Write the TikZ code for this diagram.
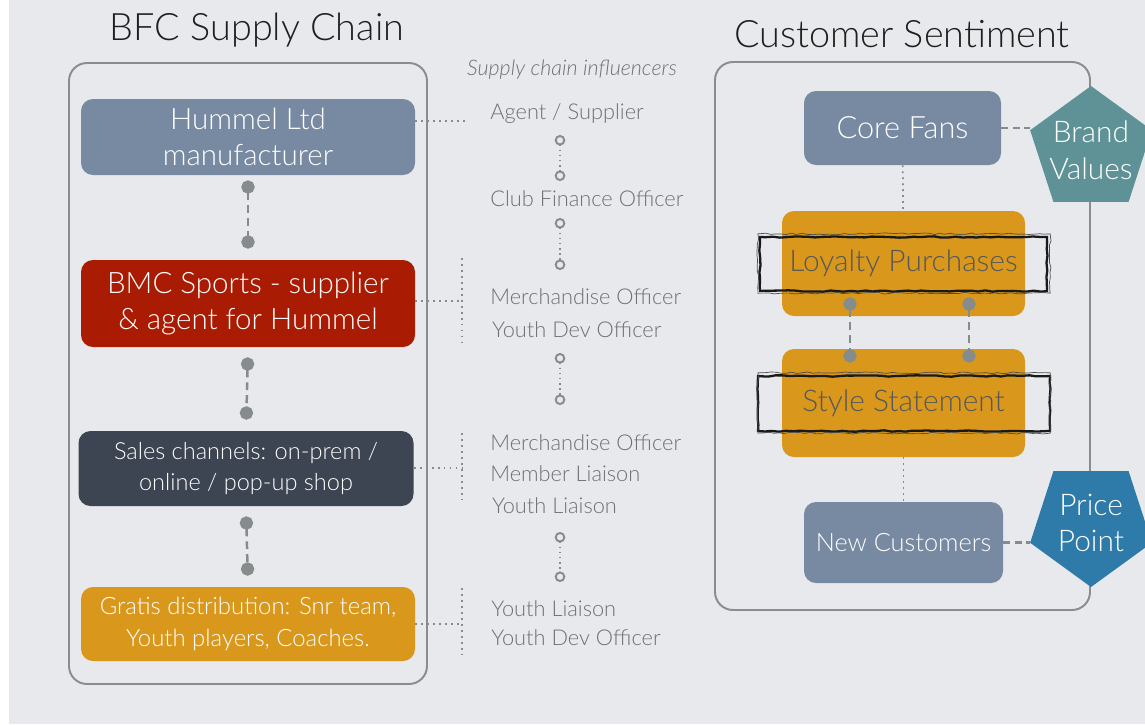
\documentclass[tikz,border=0pt]{standalone}
\usepackage{fontspec}
\setmainfont{Lato}[UprightFont={* Light}, ItalicFont={* Light Italic}]
\usetikzlibrary{positioning, shapes.geometric, arrows.meta, decorations.pathmorphing}
\definecolor{bgcol}{HTML}{E7E9EC}
\definecolor{panelgrey}{HTML}{888D8D}
\definecolor{linkgrey}{HTML}{868B8B}
\definecolor{slate}{HTML}{7889A2}
\definecolor{brick}{HTML}{A91C03}
\definecolor{ink}{HTML}{3D4452}
\definecolor{gold}{HTML}{D9981C}
\definecolor{teal}{HTML}{5F9296}
\definecolor{ocean}{HTML}{2E7BAA}
\definecolor{midtext}{HTML}{6E7173}
\definecolor{goldtext}{HTML}{585858}
\def\pxu{0.02cm}
\tikzstyle{panel} = [rectangle, rounded corners=0.36cm, draw=panelgrey, line width=1.1pt]
\tikzstyle{heading} = [text=black!88, font=\fontsize{21.5}{25}\selectfont]
\tikzstyle{box} = [rectangle, rounded corners=0.24cm, align=center, text=white, inner sep=0pt]
\tikzstyle{pent} = [regular polygon, regular polygon sides=5, inner sep=0pt]
\tikzstyle{penttext} = [text=white, align=center, font=\fontsize{17}{21}\selectfont]
\tikzstyle{infl} = [anchor=west, align=left, inner sep=0pt, text=midtext]
\tikzstyle{link} = [draw=linkgrey, line width=1.4pt, dash pattern=on 4.5pt off 2.8pt, {Circle[length=7.6pt]}-{Circle[length=7.6pt]}, shorten <=0.2cm, shorten >=0.22cm]
\tikzstyle{hop} = [draw=linkgrey, line width=0.9pt, dash pattern=on 0.9pt off 2pt, {Circle[open, length=6pt, line width=1.1pt]}-{Circle[open, length=6pt, line width=1.1pt]}]
\tikzstyle{dots} = [draw=linkgrey, line width=1pt, dash pattern=on 1pt off 2.4pt]
\tikzstyle{tie} = [draw=linkgrey, line width=1.7pt, dash pattern=on 4pt off 2.5pt]
\tikzstyle{sketch} = [rectangle, draw=black!90, line width=1.3pt, decorate, decoration={random steps, segment length=4pt, amplitude=0.4pt}]
\tikzstyle{sketchthin} = [draw=black!70, line width=0.4pt, decorate, decoration={random steps, segment length=3pt, amplitude=0.5pt}]

\begin{document}
\begin{tikzpicture}[x=0.02cm, y=-0.02cm]
\useasboundingbox (0,0) rectangle (1145,724);
\fill [bgcol] (0,0) rectangle (1145,724);
\fill [white] (0,0) rectangle (9,724);

% panels and titles
\node (supply) [panel, minimum width=358*\pxu, minimum height=621*\pxu] at (248,373.5) {};
\node (sentiment) [panel, minimum width=375*\pxu, minimum height=548*\pxu] at (902.5,336) {};
\node (supplytitle) [heading] at (257,30) {BFC Supply Chain};
\node (sentimenttitle) [heading] at (902,34) {Customer Sentiment};

% supply chain
\node (hummel) [box, fill=slate, minimum width=334*\pxu, minimum height=76*\pxu, font=\fontsize{16.8}{20.4}\selectfont] at (248,137) {Hummel Ltd\\manufacturer};
\node (bmc) [box, fill=brick, minimum width=334*\pxu, minimum height=87*\pxu, font=\fontsize{16.8}{21}\selectfont] at (248,303.5) {BMC Sports - supplier\\\& agent for Hummel};
\node (sales) [box, fill=ink, minimum width=335*\pxu, minimum height=75*\pxu, font=\fontsize{13.4}{18}\selectfont] at (246,468.5) {Sales channels: on-prem /\\online / pop-up shop};
\node (gratis) [box, fill=gold, minimum width=334*\pxu, minimum height=74*\pxu, font=\fontsize{13.6}{18}\selectfont] at (248,624) {Gratis distribution: Snr team,\\Youth players, Coaches.};

\draw [link, shorten <=0.1cm] (hummel.south) -- (bmc.north);
\draw [link] (bmc.south) -- (sales.north);
\draw [link] (sales.south) -- (gratis.north);

% influencers
\node (influencers) [text=midtext, font=\fontsize{12.2}{14}\selectfont\itshape] at (572,70) {Supply chain influencers};
\node (agent) [infl, font=\fontsize{12.4}{14}\selectfont] at (490,114) {Agent / Supplier};
\node (club) [infl, font=\fontsize{12.4}{14}\selectfont] at (490,199) {Club Finance Officer};
\node (merchA) [infl, font=\fontsize{12.4}{18.7}\selectfont] at (490,313.5) {Merchandise Officer\\\hspace{1pt}Youth Dev Officer};
\node (merchB) [infl, font=\fontsize{12.4}{18}\selectfont] at (490,474) {Merchandise Officer\\Member Liaison\\\hspace{1pt}Youth Liaison};
\node (youth) [infl, font=\fontsize{12.4}{16.4}\selectfont] at (491,623.5) {Youth Liaison\\Youth Dev Officer};

\coordinate (hopA1) at (560,135);
\coordinate (hopA2) at (560,181);
\coordinate (hopB1) at (560,218);
\coordinate (hopB2) at (560,270);
\coordinate (hopC1) at (560,353);
\coordinate (hopC2) at (560,405);
\coordinate (hopD1) at (560,532);
\coordinate (hopD2) at (560,582);
\draw [hop] (hopA1) -- (hopA2);
\draw [hop] (hopB1) -- (hopB2);
\draw [hop] (hopC1) -- (hopC2);
\draw [hop] (hopD1) -- (hopD2);

\draw [dots] (hummel.east |- 0,121) -- ([xshift=-24*\pxu]agent.west |- 0,121);
\coordinate (braceA) at (462,301);
\coordinate (braceB) at (462,468);
\coordinate (braceC) at (462,624);
\draw [dots] (bmc.east |- braceA) -- (braceA);
\draw [dots] ([yshift=43*\pxu]braceA) -- ([yshift=-42*\pxu]braceA);
\draw [dots] (sales.east |- braceB) -- (braceB);
\draw [dots] ([yshift=35*\pxu]braceB) -- ([yshift=-34*\pxu]braceB);
\draw [dots] (gratis.east |- braceC) -- (braceC);
\draw [dots] ([yshift=36*\pxu]braceC) -- ([yshift=-31*\pxu]braceC);

% customer sentiment
\node (corefans) [box, fill=slate, minimum width=197*\pxu, minimum height=74*\pxu, font=\fontsize{17.5}{20}\selectfont] at (902.5,128) {Core Fans};
\node (loyalty) [box, fill=gold, text=goldtext, minimum width=243*\pxu, minimum height=105*\pxu, font=\fontsize{17}{20}\selectfont] at (903.5,263.5) {Loyalty Purchases};
\node (style) [box, fill=gold, text=goldtext, minimum width=243*\pxu, minimum height=108*\pxu, font=\fontsize{17}{20}\selectfont] at (903.5,403) {Style Statement};
\node (newcust) [box, fill=slate, minimum width=199*\pxu, minimum height=81*\pxu, font=\fontsize{14.4}{17}\selectfont] at (903.5,542.5) {New Customers};

\node (loyaltymark) [sketch, minimum width=287*\pxu, minimum height=54*\pxu] at (903.5,264) {};
\draw [sketchthin] ([shift={(-1,-2)}]loyaltymark.north west) rectangle ([shift={(2,1)}]loyaltymark.south east);
\node (stylemark) [sketch, minimum width=292*\pxu, minimum height=55*\pxu] at (904,403.5) {};
\draw [sketchthin] ([shift={(1,-2)}]stylemark.north west) rectangle ([shift={(-1,1)}]stylemark.south east);

\node (brand) [pent, fill=teal, minimum size=128*\pxu, label={[penttext]center:Brand\\Values}] at (1091,150) {};
\node (price) [pent, fill=ocean, shape border rotate=180, minimum size=128*\pxu, label={[penttext]center:Price\\Point}] at (1091,523) {};

\draw [dots] (corefans) -- (loyalty);
\draw [dots] (style) -- (newcust);
\draw [link, shorten <=-0.38cm, shorten >=-0.28cm] ([xshift=-53.5*\pxu]loyalty.south) -- ([xshift=-53.5*\pxu]style.north);
\draw [link, shorten <=-0.38cm, shorten >=-0.28cm] ([xshift=65.5*\pxu]loyalty.south) -- ([xshift=65.5*\pxu]style.north);
\draw [tie] (corefans.east) -- (corefans.east -| brand.corner 2);
\draw [tie] (newcust.east) -- (newcust.east -| price.corner 5);

\end{tikzpicture}
\end{document}
